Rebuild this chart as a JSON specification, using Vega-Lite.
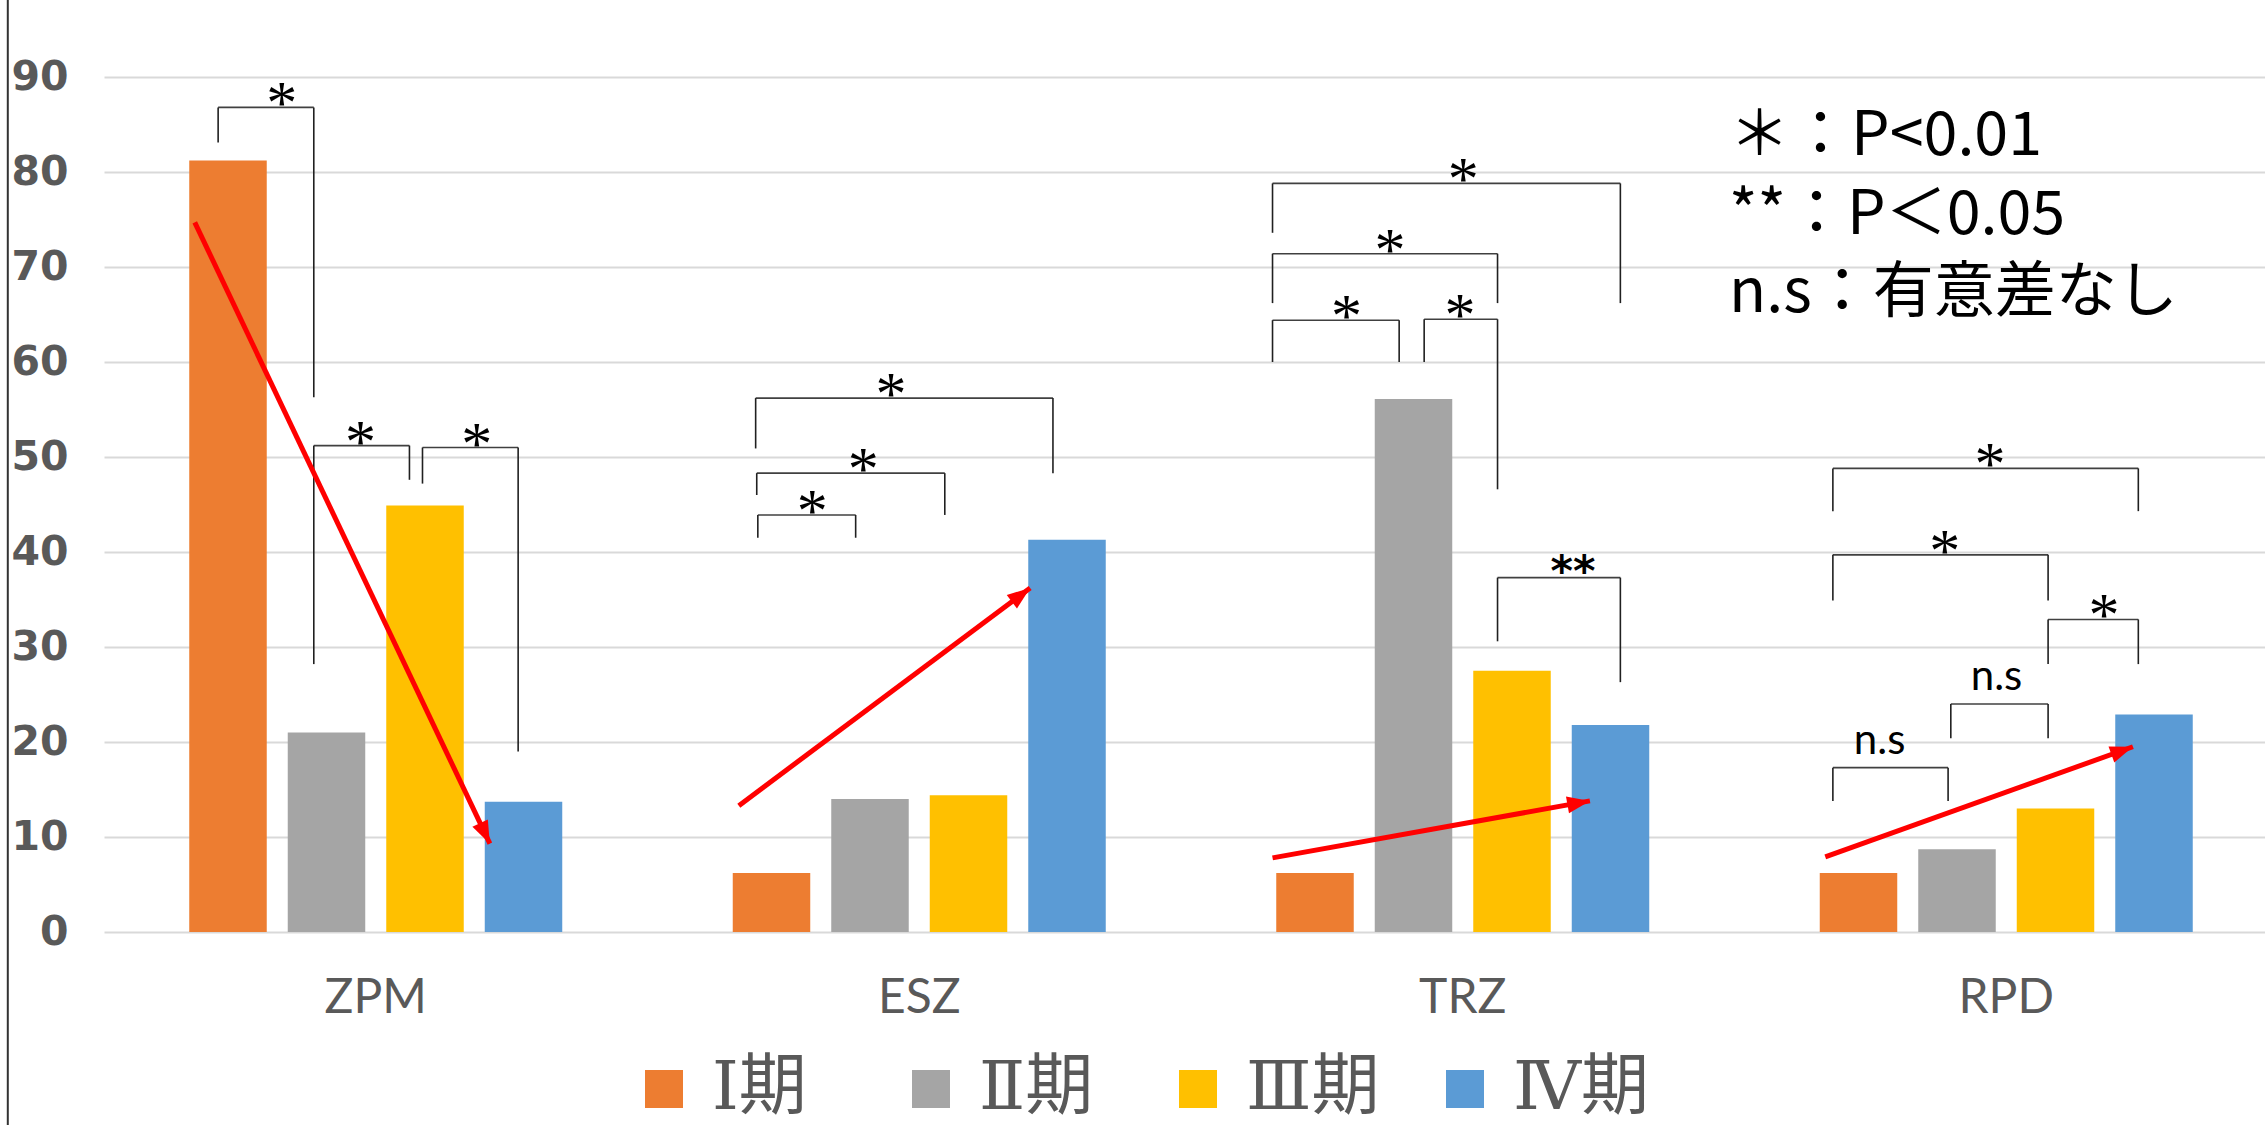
{
  "$schema": "https://vega.github.io/schema/vega-lite/v6.json",
  "width": 2161,
  "height": 855,
  "autosize": {"type": "none"},
  "padding": {"left": 104, "top": 77, "right": 0, "bottom": 193},
  "background": "white",
  "config": {
    "view": {"stroke": null},
    "axisY": {
      "ticks": false, "domain": false, "grid": true,
      "labelFont": "DejaVu Sans", "labelFontWeight": "bold", "labelFontSize": 41,
      "labelColor": "#595959", "labelPadding": 36,
      "gridColor": "#d9d9d9", "gridWidth": 2
    }
  },
  "datasets": {
    "scores": [
      {"region": "ZPM", "period": "Ⅰ期", "pct": 81.2},
      {"region": "ZPM", "period": "Ⅱ期", "pct": 21.0},
      {"region": "ZPM", "period": "Ⅲ期", "pct": 44.9},
      {"region": "ZPM", "period": "Ⅳ期", "pct": 13.7},
      {"region": "ESZ", "period": "Ⅰ期", "pct": 6.2},
      {"region": "ESZ", "period": "Ⅱ期", "pct": 14.0},
      {"region": "ESZ", "period": "Ⅲ期", "pct": 14.4},
      {"region": "ESZ", "period": "Ⅳ期", "pct": 41.3},
      {"region": "TRZ", "period": "Ⅰ期", "pct": 6.2},
      {"region": "TRZ", "period": "Ⅱ期", "pct": 56.1},
      {"region": "TRZ", "period": "Ⅲ期", "pct": 27.5},
      {"region": "TRZ", "period": "Ⅳ期", "pct": 21.8},
      {"region": "RPD", "period": "Ⅰ期", "pct": 6.2},
      {"region": "RPD", "period": "Ⅱ期", "pct": 8.7},
      {"region": "RPD", "period": "Ⅲ期", "pct": 13.0},
      {"region": "RPD", "period": "Ⅳ期", "pct": 22.9}
    ],
    "brackets": [
      {"region": "ZPM", "u1": 0.210, "u2": 0.386, "top": 86.8, "lb": 83.1, "rb": 56.3, "sig": "*", "ul": 0.327},
      {"region": "ZPM", "u1": 0.386, "u2": 0.562, "top": 51.2, "lb": 28.2, "rb": 47.6, "sig": "*", "ul": 0.472},
      {"region": "ZPM", "u1": 0.586, "u2": 0.762, "top": 51.0, "lb": 47.2, "rb": 19.0, "sig": "*", "ul": 0.686},
      {"region": "ESZ", "u1": 1.199, "u2": 1.746, "top": 56.2, "lb": 50.9, "rb": 48.3, "sig": "*", "ul": 1.448},
      {"region": "ESZ", "u1": 1.201, "u2": 1.547, "top": 48.3, "lb": 46.0, "rb": 43.9, "sig": "*", "ul": 1.397},
      {"region": "ESZ", "u1": 1.203, "u2": 1.383, "top": 43.9, "lb": 41.5, "rb": 41.5, "sig": "*", "ul": 1.303},
      {"region": "TRZ", "u1": 2.150, "u2": 2.790, "top": 78.8, "lb": 73.6, "rb": 66.2, "sig": "*", "ul": 2.501},
      {"region": "TRZ", "u1": 2.150, "u2": 2.564, "top": 71.4, "lb": 66.2, "rb": 66.2, "sig": "*", "ul": 2.366},
      {"region": "TRZ", "u1": 2.150, "u2": 2.383, "top": 64.4, "lb": 60.0, "rb": 60.0, "sig": "*", "ul": 2.286},
      {"region": "TRZ", "u1": 2.429, "u2": 2.564, "top": 64.5, "lb": 60.0, "rb": 46.6, "sig": "*", "ul": 2.495},
      {"region": "TRZ", "u1": 2.564, "u2": 2.790, "top": 37.3, "lb": 30.6, "rb": 26.3, "sig": "**", "ul": 2.703},
      {"region": "RPD", "u1": 3.181, "u2": 3.743, "top": 48.8, "lb": 44.3, "rb": 44.3, "sig": "*", "ul": 3.470},
      {"region": "RPD", "u1": 3.181, "u2": 3.577, "top": 39.7, "lb": 34.9, "rb": 34.9, "sig": "*", "ul": 3.387},
      {"region": "RPD", "u1": 3.577, "u2": 3.743, "top": 32.9, "lb": 28.2, "rb": 28.2, "sig": "*", "ul": 3.680},
      {"region": "RPD", "u1": 3.398, "u2": 3.577, "top": 24.0, "lb": 20.4, "rb": 20.4, "sig": "n.s", "ul": 3.482},
      {"region": "RPD", "u1": 3.181, "u2": 3.393, "top": 17.3, "lb": 13.8, "rb": 13.8, "sig": "n.s", "ul": 3.267}
    ],
    "trends": [
      {"region": "ZPM", "u1": 0.167, "v1": 74.7, "u2": 0.710, "v2": 9.3},
      {"region": "ESZ", "u1": 1.168, "v1": 13.3, "u2": 1.704, "v2": 36.2},
      {"region": "TRZ", "u1": 2.150, "v1": 7.8, "u2": 2.734, "v2": 13.8},
      {"region": "RPD", "u1": 3.167, "v1": 7.9, "u2": 3.733, "v2": 19.5}
    ],
    "notes": [
      {"u": 2.990, "v": 81.8, "line": "＊：P<0.01"},
      {"u": 2.990, "v": 73.5, "line": "**：P＜0.05"},
      {"u": 2.990, "v": 65.3, "line": "n.s：有意差なし"}
    ],
    "frame": [
      {"u": -0.177, "v1": -20.4, "v2": 98.2}
    ]
  },
  "layer": [
    {
      "data": {"name": "scores"},
      "mark": {"type": "bar"},
      "encoding": {
        "x": {
          "field": "region", "type": "nominal",
          "sort": ["ZPM", "ESZ", "TRZ", "RPD"],
          "scale": {"type": "band", "paddingInner": 0.3137, "paddingOuter": 0.15685, "range": [0, 2174]},
          "axis": {
            "title": null, "labelAngle": 0, "ticks": false, "domain": false, "grid": false,
            "labelFont": "Lato", "labelFontSize": 48, "labelColor": "#595959", "labelPadding": 42
          }
        },
        "xOffset": {
          "field": "period", "type": "nominal",
          "sort": ["Ⅰ期", "Ⅱ期", "Ⅲ期", "Ⅳ期"],
          "scale": {"paddingInner": 0.2132, "paddingOuter": 0}
        },
        "y": {
          "field": "pct", "type": "quantitative",
          "scale": {"domain": [0, 90], "nice": false},
          "axis": {"title": null, "values": [0, 10, 20, 30, 40, 50, 60, 70, 80, 90]}
        },
        "color": {
          "field": "period", "type": "nominal",
          "scale": {
            "domain": ["Ⅰ期", "Ⅱ期", "Ⅲ期", "Ⅳ期"],
            "range": ["#ED7D31", "#A5A5A5", "#FFC000", "#5B9BD5"]
          },
          "legend": {
            "title": null, "orient": "none", "direction": "horizontal",
            "legendX": 526, "legendY": 978, "gridAlign": "all",
            "symbolType": "square", "symbolSize": 1444, "symbolStrokeWidth": 0,
            "labelFont": "DejaVu Serif, Noto Sans CJK JP", "labelFontSize": 68,
            "labelColor": "#595959", "labelOffset": 14, "columnPadding": 49
          }
        }
      }
    },
    {
      "layer": [
        {
          "data": {"name": "frame"},
          "mark": {"type": "rule", "color": "#333333", "strokeWidth": 2},
          "encoding": {
            "x": {"field": "u", "type": "quantitative", "scale": {"domain": [0, 4], "range": [0, 2174]}, "axis": null},
            "y": {"field": "v1", "type": "quantitative", "scale": {"domain": [0, 90], "nice": false}, "title": null},
            "y2": {"field": "v2"}
          }
        },
        {
          "data": {"name": "brackets"},
          "mark": {"type": "rule", "color": "#404040", "strokeWidth": 1.6},
          "encoding": {
            "x": {"field": "u1", "type": "quantitative", "axis": null},
            "x2": {"field": "u2"},
            "y": {"field": "top", "type": "quantitative", "title": null}
          }
        },
        {
          "data": {"name": "brackets"},
          "mark": {"type": "rule", "color": "#202020", "strokeWidth": 1.6},
          "encoding": {
            "x": {"field": "u1", "type": "quantitative", "axis": null},
            "y": {"field": "top", "type": "quantitative", "title": null},
            "y2": {"field": "lb"}
          }
        },
        {
          "data": {"name": "brackets"},
          "mark": {"type": "rule", "color": "#202020", "strokeWidth": 1.6},
          "encoding": {
            "x": {"field": "u2", "type": "quantitative", "axis": null},
            "y": {"field": "top", "type": "quantitative", "title": null},
            "y2": {"field": "rb"}
          }
        },
        {
          "data": {"name": "brackets"},
          "transform": [{"filter": "datum.sig === '*'"}],
          "mark": {"type": "text", "font": "Liberation Serif", "fontSize": 62, "color": "#000000", "align": "center", "baseline": "alphabetic", "dy": 16},
          "encoding": {
            "x": {"field": "ul", "type": "quantitative", "axis": null},
            "y": {"field": "top", "type": "quantitative", "title": null},
            "text": {"field": "sig"}
          }
        },
        {
          "data": {"name": "brackets"},
          "transform": [{"filter": "datum.sig === '**'"}],
          "mark": {"type": "text", "font": "DejaVu Sans", "fontWeight": "bold", "fontSize": 43, "color": "#000000", "align": "center", "baseline": "alphabetic", "dy": 8},
          "encoding": {
            "x": {"field": "ul", "type": "quantitative", "axis": null},
            "y": {"field": "top", "type": "quantitative", "title": null},
            "text": {"field": "sig"}
          }
        },
        {
          "data": {"name": "brackets"},
          "transform": [{"filter": "datum.sig === 'n.s'"}],
          "mark": {"type": "text", "font": "Lato", "fontSize": 42, "color": "#000000", "align": "center", "baseline": "alphabetic", "dy": -14},
          "encoding": {
            "x": {"field": "ul", "type": "quantitative", "axis": null},
            "y": {"field": "top", "type": "quantitative", "title": null},
            "text": {"field": "sig"}
          }
        },
        {
          "data": {"name": "trends"},
          "mark": {"type": "rule", "color": "#FF0000", "strokeWidth": 5, "strokeCap": "butt"},
          "encoding": {
            "x": {"field": "u1", "type": "quantitative", "axis": null},
            "x2": {"field": "u2"},
            "y": {"field": "v1", "type": "quantitative", "title": null},
            "y2": {"field": "v2"}
          }
        },
        {
          "data": {"name": "trends"},
          "transform": [
            {"calculate": "atan2((datum.u2 - datum.u1) * 543.5, (datum.v2 - datum.v1) * 9.5) * 180 / PI", "as": "heading"}
          ],
          "mark": {"type": "point", "shape": "M0,0L0.75,2L-0.75,2Z", "filled": true, "color": "#FF0000", "opacity": 1, "size": 520},
          "encoding": {
            "x": {"field": "u2", "type": "quantitative", "axis": null},
            "y": {"field": "v2", "type": "quantitative", "title": null},
            "angle": {"field": "heading", "type": "quantitative", "scale": null}
          }
        },
        {
          "data": {"name": "notes"},
          "mark": {"type": "text", "font": "Noto Sans CJK JP", "fontSize": 61, "color": "#000000", "align": "left", "baseline": "alphabetic"},
          "encoding": {
            "x": {"field": "u", "type": "quantitative", "axis": null},
            "y": {"field": "v", "type": "quantitative", "title": null},
            "text": {"field": "line"}
          }
        }
      ]
    }
  ],
  "resolve": {"scale": {"x": "independent"}}
}
